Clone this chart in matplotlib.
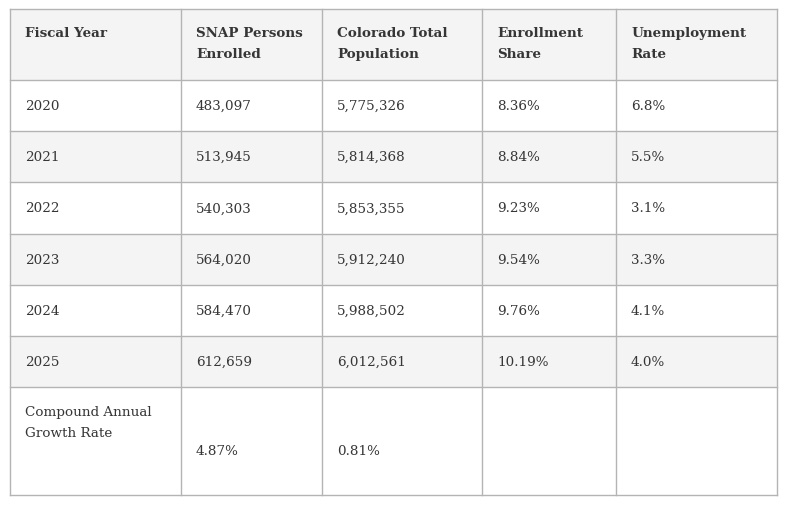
import matplotlib
matplotlib.use("Agg")
import matplotlib.pyplot as plt
from matplotlib.patches import Rectangle

# table content
headers = ["Fiscal Year", "SNAP Persons\nEnrolled", "Colorado Total\nPopulation",
           "Enrollment\nShare", "Unemployment\nRate"]
years = ["2020", "2021", "2022", "2023", "2024", "2025"]
snap_enrolled = ["483,097", "513,945", "540,303", "564,020", "584,470", "612,659"]
co_population = ["5,775,326", "5,814,368", "5,853,355", "5,912,240", "5,988,502", "6,012,561"]
enroll_share = ["8.36%", "8.84%", "9.23%", "9.54%", "9.76%", "10.19%"]
unemp_rate = ["6.8%", "5.5%", "3.1%", "3.3%", "4.1%", "4.0%"]
cagr_label = "Compound Annual\nGrowth Rate"
cagr_values = ["4.87%", "0.81%", "", ""]

# layout in pixels
col_x = [10, 181, 322, 482, 616, 777]
row_y = [10, 81, 132, 183, 235, 286, 337, 388, 496]
pad = 15
txt_color = "#363636"
line_color = "#b4b4b4"
shade = "#f4f4f4"
font = ["DejaVu Serif"]
fs = 9.7

fig = plt.figure(figsize=(7.86, 5.10), dpi=100)
ax = fig.add_axes([0, 0, 1, 1])
ax.set_xlim(0, 786)
ax.set_ylim(510, 0)
ax.axis("off")

# backgrounds: header and alternating rows
shaded_rows = [0, 2, 4, 6]
for r in shaded_rows:
    ax.add_patch(Rectangle((col_x[0], row_y[r]), col_x[-1] - col_x[0],
                           row_y[r + 1] - row_y[r], facecolor=shade, edgecolor="none"))

# grid lines
for y in row_y:
    ax.plot([col_x[0], col_x[-1]], [y, y], color=line_color, lw=1)
for x in col_x:
    ax.plot([x, x], [row_y[0], row_y[-1]], color=line_color, lw=1)

# header
for c, h in enumerate(headers):
    ax.text(col_x[c] + pad, 27, h, ha="left", va="top", fontsize=fs,
            fontweight="bold", color=txt_color, family=font, linespacing=1.8)

# data rows
rows = list(zip(years, snap_enrolled, co_population, enroll_share, unemp_rate))
for r, vals in enumerate(rows):
    yc = (row_y[r + 1] + row_y[r + 2]) / 2
    for c, v in enumerate(vals):
        ax.text(col_x[c] + pad, yc, v, ha="left", va="center", fontsize=fs,
                color=txt_color, family=font)

# CAGR row
ax.text(col_x[0] + pad, 406, cagr_label, ha="left", va="top", fontsize=fs,
        color=txt_color, family=font, linespacing=1.8)
for c, v in enumerate(cagr_values):
    ax.text(col_x[c + 1] + pad, 452, v, ha="left", va="center", fontsize=fs,
            color=txt_color, family=font)

fig.savefig("out.png", dpi=100)
